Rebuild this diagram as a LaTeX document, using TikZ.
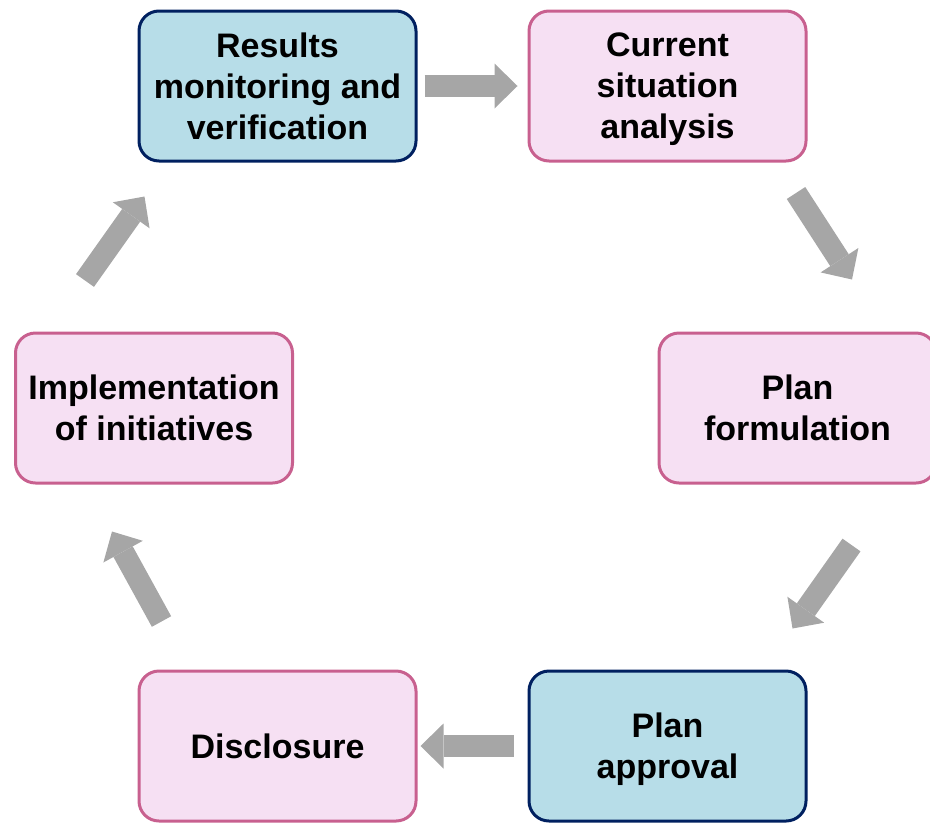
\documentclass[tikz,border=0pt]{standalone}
\usepackage{fontspec}
\setmainfont{Liberation Sans}
\usetikzlibrary{arrows.meta,calc}
\definecolor{stageblue}{HTML}{B7DDE8}
\definecolor{stagenavy}{HTML}{002060}
\definecolor{stagepink}{HTML}{F6E0F3}
\definecolor{stagerose}{HTML}{C8608F}
\definecolor{flowgray}{HTML}{A6A6A6}

\begin{document}
\begin{tikzpicture}[x=0.5pt,y=-0.5pt,
    stage/.style={rectangle, rounded corners=10pt, line width=1.5pt,
        minimum width=138.5pt, minimum height=75pt, align=center,
        text depth=0pt, font=\bfseries\fontsize{17}{20.5}\selectfont},
    bluestage/.style={stage, draw=stagenavy, fill=stageblue},
    pinkstage/.style={stage, draw=stagerose, fill=stagepink},
    flow/.style={draw=flowgray, line width=11pt,
        -{Triangle[width=22.5pt,length=11.5pt,line width=0pt]}}]
    \clip (0,0) rectangle (930,825);
    \path (277.5,86) node[bluestage](res){Results\\monitoring and\\verification};
    \path (667.5,86) node[pinkstage](cur){Current\\situation\\analysis};
    \path (797.5,408) node[pinkstage](plan){Plan\\formulation};
    \path (667.5,746) node[bluestage](appr){Plan\\approval};
    \path (277.5,746) node[pinkstage](disc){Disclosure};
    \path (154,408) node[pinkstage](impl){Implementation\\of initiatives};
    % cycle arrows
    \draw[flow] ($(res.east)+(7,0)$) -- ($(cur.west)+(-10,0)$);
    \draw[flow] ($(cur.south east)+(-11.5,30.5)$) -- ($(plan.north)+(54.5,-52)$);
    \draw[flow] ($(plan.south)+(54,60.5)$) -- ($(appr.north east)+(-15,-41)$);
    \draw[flow] ($(appr.west)+(-14,0)$) -- ($(disc.east)+(3,0)$);
    \draw[flow] ($(disc.north west)+(24,-48)$) -- ($(impl.south)+(-42,47)$);
    \draw[flow] ($(impl.north)+(-69,-51)$) -- ($(res.south west)+(7,34)$);
\end{tikzpicture}
\end{document}
